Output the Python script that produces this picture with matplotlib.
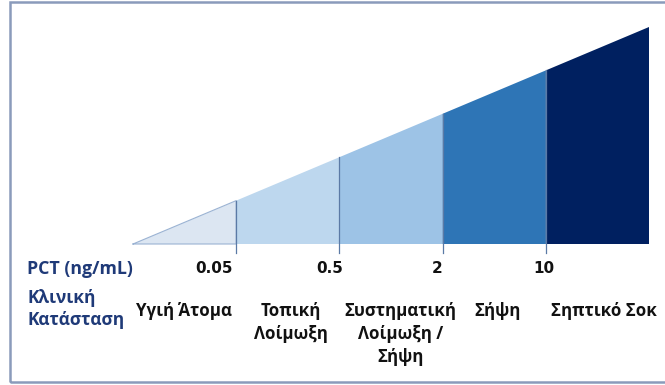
import numpy as np
import matplotlib.pyplot as plt
from matplotlib.patches import Polygon, Rectangle

plt.rcParams['font.family'] = ['Open Sans', 'DejaVu Sans']

# PCT cut-offs between the stages and the clinical stage names
pct_cutoffs = ['0.05', '0.5', '2', '10']
stages = ['Υγιή Άτομα', 'Τοπική\nΛοίμωξη', 'Συστηματική\nΛοίμωξη /\nΣήψη',
          'Σήψη', 'Σηπτικό Σοκ']
colors = ['#dce6f2', '#bdd7ee', '#9dc3e6', '#2e75b6', '#002060']

n = len(stages)
edges = np.arange(n + 1)          # segment boundaries along the wedge
slope = 1.0 / n                   # wedge height grows linearly to 1

fig = plt.figure(figsize=(6.65, 3.85), dpi=100)
W, H = 665, 385

# frame around the whole panel
fig.patches.append(Rectangle((10 / W, 3 / H), 700 / W, 380 / H,
                             transform=fig.transFigure, fill=False,
                             edgecolor='#8a9bbb', linewidth=1.8))

ax = fig.add_axes([133 / W, (H - 244) / H, 516 / W, 217 / H])
ax.set_xlim(0, n)
ax.set_ylim(0, 1)
ax.axis('off')

for i in range(n):
    x0, x1 = edges[i], edges[i + 1]
    pts = [(x0, 0), (x1, 0), (x1, x1 * slope), (x0, x0 * slope)]
    ax.add_patch(Polygon(pts, closed=True, facecolor=colors[i],
                         edgecolor='none', clip_on=False))

# outline of the light tip
ax.plot([0, 1, 1, 0], [0, 0, slope, 0], color='#9bb3d3', lw=0.8,
        clip_on=False)

# divider lines at each cut-off, poking below the base
trans = ax.get_xaxis_transform()
num_align = [('right', -0.03), ('right', 0.04), ('center', -0.05), ('center', -0.02)]
for i, lab in enumerate(pct_cutoffs):
    x = edges[i + 1]
    ax.plot([x, x], [-0.04, x * slope], color='#5b7aa6', lw=0.9,
            clip_on=False, transform=trans)
    ha, dx = num_align[i]
    ax.text(x + dx, -0.115, lab, transform=trans, ha=ha, va='center',
            fontsize=11, color='#111111', fontweight='bold',
            family='DejaVu Sans')

# stage names sit roughly under each segment, nudged a little right
stage_dx = [-0.01, 0.03, 0.09, 0.03, 0.06]
for i, st in enumerate(stages):
    xc = (edges[i] + edges[i + 1]) / 2 + stage_dx[i]
    ax.text(xc, -0.268, st, transform=trans, ha='center', va='top',
            fontsize=12.2, color='#111111', fontweight='bold',
            linespacing=1.35)

fig.text(27 / W, 1 - 269 / H, 'PCT (ng/mL)', ha='left', va='center',
         fontsize=12.8, color='#1f3a78', fontweight='bold')
fig.text(27 / W, 1 - 309 / H, 'Κλινική\nΚατάσταση', ha='left', va='center',
         fontsize=12.4, color='#1f3a78', fontweight='bold', linespacing=1.35)

fig.savefig('out.png', dpi=100)
